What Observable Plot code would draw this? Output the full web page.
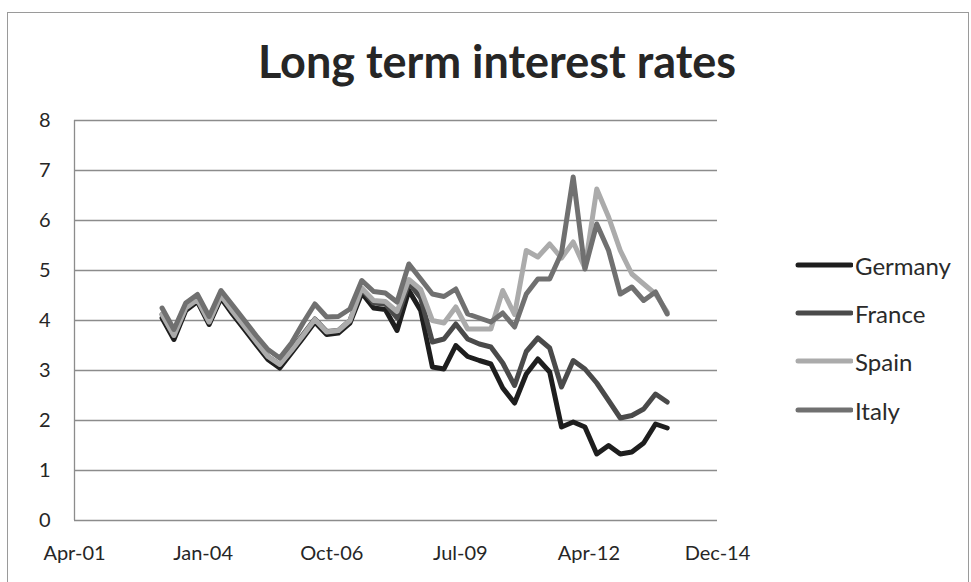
<!DOCTYPE html>
<html>
<head>
<meta charset="utf-8">
<script src="https://cdn.jsdelivr.net/npm/d3@7"></script>
<script src="https://cdn.jsdelivr.net/npm/@observablehq/plot@0.6"></script>
<style>
  body { margin: 0; background: #fff; }
  #wrap { position: relative; width: 971px; height: 582px; overflow: hidden; font-family: Lato, "Open Sans", sans-serif; background: #fff; }
  #chart { position: absolute; left: 0; top: 0; }
  #frame { position: absolute; left: 7px; top: 12px; width: 962px; height: 590px; border: 1px solid #9a9a9a; box-sizing: border-box; pointer-events: none; }
  #title { position: absolute; left: 0; width: 994px; top: 37px; text-align: center; font-weight: 700; font-size: 45px; line-height: 48px; color: #262626; }
  .lg { position: absolute; left: 795px; height: 30px; display: flex; align-items: center; font-size: 24px; color: #2a2a2a; }
  .lg svg { margin-right: 2px; }
</style>
</head>
<body>
<div id="wrap">
  <div id="chart"></div>
  <div id="title">Long term interest rates</div>
  <div id="legend"></div>
  <div id="frame"></div>
</div>
<script>
// ---- data (quarterly) ----
const dates = [
  "2003-03-01","2003-06-01","2003-09-01","2003-12-01",
  "2004-03-01","2004-06-01","2004-09-01","2004-12-01",
  "2005-03-01","2005-06-01","2005-09-01","2005-12-01",
  "2006-03-01","2006-06-01","2006-09-01","2006-12-01",
  "2007-03-01","2007-06-01","2007-09-01","2007-12-01",
  "2008-03-01","2008-06-01","2008-09-01","2008-12-01",
  "2009-03-01","2009-06-01","2009-09-01","2009-12-01",
  "2010-03-01","2010-06-01","2010-09-01","2010-12-01",
  "2011-03-01","2011-06-01","2011-09-01","2011-12-01",
  "2012-03-01","2012-06-01","2012-09-01","2012-12-01",
  "2013-03-01","2013-06-01","2013-09-01","2013-12-01"
];
const germany = [4.05,3.62,4.20,4.38, 3.92,4.45,4.12,3.82, 3.52,3.22,3.05,3.35,
  3.65,3.97,3.72,3.75, 3.95,4.55,4.25,4.22, 3.80,4.60,4.20,3.07,
  3.03,3.50,3.28,3.20, 3.13,2.65,2.35,2.93, 3.23,2.97,1.87,1.97,
  1.87,1.33,1.50,1.33, 1.37,1.55,1.93,1.85];
const france = [4.12,3.70,4.25,4.42, 3.97,4.50,4.18,3.88, 3.58,3.28,3.12,3.42,
  3.72,4.03,3.78,3.80, 4.00,4.62,4.35,4.33, 4.05,4.75,4.45,3.57,
  3.63,3.93,3.63,3.53, 3.47,3.15,2.70,3.38, 3.65,3.45,2.67,3.20,
  3.03,2.75,2.40,2.05, 2.10,2.23,2.53,2.37];
const spain = [4.12,3.70,4.25,4.42, 3.97,4.50,4.18,3.88, 3.58,3.28,3.12,3.40,
  3.70,4.02,3.77,3.80, 4.00,4.65,4.40,4.38, 4.18,4.82,4.62,4.00,
  3.95,4.27,3.83,3.83, 3.83,4.60,4.12,5.40, 5.27,5.53,5.25,5.57,
  5.05,6.63,6.07,5.40, 4.93,4.73,4.53,4.17];
const italy = [4.25,3.82,4.35,4.52, 4.08,4.60,4.30,4.00, 3.70,3.42,3.25,3.55,
  3.95,4.33,4.07,4.08, 4.23,4.80,4.58,4.55, 4.37,5.13,4.83,4.53,
  4.48,4.63,4.13,4.05, 3.97,4.15,3.87,4.53, 4.83,4.83,5.35,6.87,
  5.03,5.93,5.40,4.53, 4.67,4.40,4.57,4.13];
const countries = ["Germany", "France", "Spain", "Italy"];
const colors = ["#1e1e1e", "#4a4a4a", "#ababab", "#707070"];
const yTicks = [0, 1, 2, 3, 4, 5, 6, 7, 8];
const xTickDates = ["2001-04-19", "2004-01-14", "2006-10-11", "2009-07-06", "2012-04-01", "2014-12-27"];

// ---- build table ----
const seriesValues = [germany, france, spain, italy];
const rows = [];
countries.forEach((c, k) => {
  dates.forEach((d, i) => rows.push({country: c, date: new Date(d), value: seriesValues[k][i]}));
});
const xTicks = xTickDates.map(d => new Date(d));
const fmt = d3.utcFormat("%b-%y");

const chart = Plot.plot({
  width: 971,
  height: 582,
  marginLeft: 74,
  marginRight: 254,
  marginTop: 120,
  marginBottom: 62,
  style: {fontFamily: "Lato, 'Open Sans', sans-serif", fontSize: "20px", color: "#262626", background: "transparent", overflow: "visible"},
  x: {type: "utc", domain: [xTicks[0], xTicks[xTicks.length - 1]], ticks: xTicks, tickFormat: fmt, tickSize: 0, tickPadding: 25, label: null},
  y: {domain: [0, 8], ticks: yTicks, tickSize: 0, tickPadding: 24, label: null},
  color: {domain: countries, range: colors},
  marks: [
    Plot.gridY(yTicks, {stroke: "#8c8c8c", strokeOpacity: 1, strokeWidth: 1.3}),
    Plot.ruleX([xTicks[0]], {y1: 0, y2: 8, stroke: "#8c8c8c", strokeWidth: 1.3}),
    Plot.line(rows, {x: "date", y: "value", z: "country", stroke: "country", strokeWidth: 5, strokeLinejoin: "round", strokeLinecap: "round"})
  ]
});
document.getElementById("chart").appendChild(chart);

// ---- legend ----
const legendTops = [265, 313, 361, 410];
const leg = document.getElementById("legend");
countries.forEach((c, k) => {
  const div = document.createElement("div");
  div.className = "lg";
  div.style.top = (legendTops[k] - 15) + "px";
  div.innerHTML = `<svg width="58" height="8"><line x1="3" x2="56" y1="4" y2="4" stroke="${colors[k]}" stroke-width="5" stroke-linecap="round"/></svg><span>${c}</span>`;
  leg.appendChild(div);
});
</script>
</body>
</html>
